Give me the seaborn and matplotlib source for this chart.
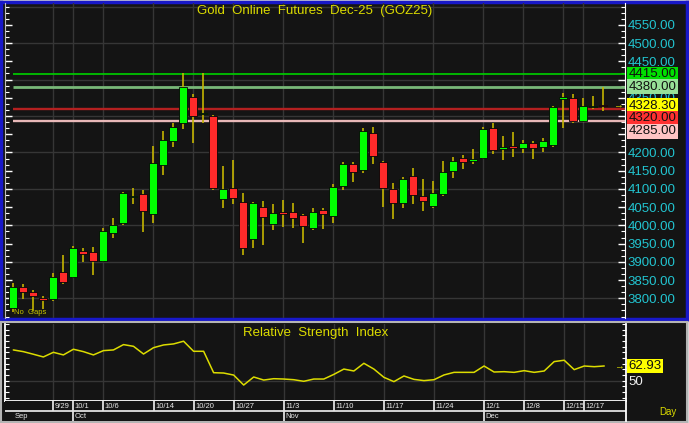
import numpy as np
import pandas as pd
import matplotlib.pyplot as plt
import matplotlib.ticker as mticker
import seaborn as sns

# daily OHLC of GOZ25, one bar per session
opens = [3772.7, 3830.3, 3818.4, 3802.0, 3798.3, 3873.3, 3859.6, 3930.9, 3928.2, 3903.5,
         3978.5, 4005.9, 4077.0, 4086.4, 4031.5, 4166.0, 4231.8, 4280.0, 4353.4, 4305.0,
         4300.4, 4071.7, 4103.8, 4063.5, 3963.0, 4050.7, 4004.0, 4037.9, 4037.9, 4028.8,
         3994.0, 4042.5, 4026.9, 4109.2, 4168.7, 4152.2, 4252.8, 4173.2, 4100.1, 4060.8,
         4135.8, 4080.9, 4054.4, 4085.5, 4149.5, 4186.0, 4177.8, 4186.0, 4268.4, 4210.7,
         4218.0, 4211.7, 4225.4, 4216.2, 4220.8, 4347.0, 4350.7, 4286.6, 4325.0, 4331.5]
highs = [3841.0, 3838.5, 3823.0, 3806.5, 3868.7, 3919.0, 3943.7, 3939.0, 3940.0, 3992.0,
         4021.4, 4092.8, 4101.9, 4097.3, 4218.0, 4259.0, 4280.0, 4419.0, 4360.7, 4419.0,
         4302.0, 4163.0, 4179.7, 4088.2, 4065.3, 4067.2, 4059.0, 4070.0, 4060.8, 4031.5,
         4047.0, 4048.9, 4113.8, 4175.1, 4175.1, 4266.5, 4271.0, 4177.0, 4115.6, 4132.1,
         4156.8, 4127.5, 4122.0, 4177.0, 4188.8, 4193.4, 4209.0, 4271.0, 4282.0, 4245.5,
         4255.6, 4234.5, 4231.8, 4239.1, 4328.7, 4362.5, 4359.8, 4350.7, 4356.0, 4379.0]
lows = [3763.6, 3798.3, 3766.3, 3770.0, 3793.7, 3839.5, 3855.0, 3900.7, 3864.0, 3900.7,
        3966.6, 4001.3, 4059.0, 3983.0, 4007.7, 4138.5, 4216.2, 4263.8, 4227.2, 4282.0,
        4097.3, 4049.0, 4059.0, 3919.0, 3939.0, 3946.4, 3987.6, 3996.8, 3994.0, 3952.9,
        3987.6, 3990.4, 4007.7, 4097.3, 4120.2, 4144.9, 4168.7, 4051.6, 4017.8, 4049.0,
        4058.0, 4040.6, 4049.0, 4080.9, 4129.4, 4154.0, 4167.8, 4182.4, 4196.1, 4179.7,
        4188.8, 4199.8, 4181.5, 4200.7, 4214.4, 4266.5, 4280.2, 4284.8, 4319.6, 4314.0]
closes = [3830.3, 3816.6, 3806.5, 3796.5, 3857.8, 3844.0, 3937.3, 3921.8, 3903.5, 3985.8,
          4001.3, 4088.2, 4080.9, 4038.8, 4170.5, 4234.5, 4271.0, 4379.0, 4301.3, 4306.8,
          4101.9, 4100.1, 4076.3, 3939.1, 4060.8, 4024.2, 4033.3, 4032.4, 4021.4, 3999.5,
          4037.9, 4031.5, 4106.5, 4168.7, 4147.6, 4259.2, 4191.5, 4101.9, 4060.8, 4127.5,
          4083.6, 4068.0, 4088.2, 4147.6, 4177.8, 4175.1, 4183.3, 4263.8, 4207.1, 4214.4,
          4211.7, 4225.4, 4213.5, 4231.8, 4326.0, 4353.4, 4286.6, 4328.7, 4328.7, 4328.3]
rsi = [77.1, 75.6, 73.3, 70.9, 75.0, 72.7, 77.7, 75.6, 72.7, 76.5,
       77.1, 81.8, 80.3, 73.5, 79.1, 81.5, 82.4, 84.8, 75.9, 75.9,
       57.0, 56.7, 54.9, 46.1, 53.2, 50.5, 51.7, 51.4, 50.8, 49.4,
       51.4, 51.4, 55.5, 60.2, 58.5, 65.3, 60.2, 52.9, 49.1, 54.1,
       51.1, 50.0, 50.8, 55.0, 57.3, 57.3, 57.3, 62.9, 57.6, 57.9,
       57.3, 58.8, 57.3, 58.5, 66.8, 68.0, 59.7, 62.9, 62.3, 62.93]

date_labels = ['9/29', '10/1', '10/6', '10/14', '10/20', '10/27', '11/3',
               '11/10', '11/17', '11/24', '12/1', '12/8', '12/15', '12/17']
date_pos = [4, 6, 9, 14, 18, 22, 27, 32, 37, 42, 47, 51, 55, 57]
month_labels = ['Sep', 'Oct', 'Nov', 'Dec']
month_pos = [0, 6, 27, 47]

levels = [4415.0, 4380.0, 4320.0, 4285.0]
level_colors = ['#00c400', '#78b878', '#b42020', '#e8b8b8']
level_box = ['#00e000', '#98e098', '#ff3030', '#ffc4c4']
last_price = 4328.30

sns.set_style('dark')
plt.rcParams['font.family'] = ['Liberation Sans', 'DejaVu Sans']

W, H = 689, 423


def box(x, y, w, h):
    # pixel rectangle (from top left) -> figure fraction
    return [x / W, 1 - (y + h) / H, w / W, h / H]


BG = '#141414'
GRID = '#363636'
YEL = '#dcdc00'
CYAN = '#22c4d0'

df = pd.DataFrame({'open': opens, 'high': highs, 'low': lows, 'close': closes, 'rsi': rsi})
df['i'] = np.arange(len(df))
up = df['close'] >= df['open']
xlim = (-0.83, 61.17)

fig = plt.figure(figsize=(W / 100, H / 100), dpi=100)
fig.patch.set_facecolor('#d4d4d4')

# ---- price panel ----
bg = fig.add_axes(box(1, 2, 686, 317))
bg.set_facecolor(BG)
bg.set_xticks([])
bg.set_yticks([])
for s in bg.spines.values():
    s.set_color('#1818c8')
    s.set_linewidth(2.5)

ax = fig.add_axes(box(5, 3, 620, 315))
ax.set_facecolor('none')
ax.set_xlim(xlim)
ax.set_ylim(3746, 4610)
for x in date_pos:
    ax.axvline(x, color=GRID, lw=1, zorder=0)
for y in range(3800, 4601, 100):
    ax.axhline(y, color=GRID, lw=1, zorder=0)

ax.hlines(levels, 0, xlim[1], colors=level_colors, linewidths=[1.3, 2.0, 1.7, 1.7], zorder=1)

ax.vlines(df['i'], df['low'], df['high'], color='#c4b400', lw=1.2, zorder=2)
body = (df['close'] - df['open']).abs().clip(lower=2.5)
ax.bar(df['i'][up], body[up], bottom=df['open'][up], width=0.8,
       color='#00ff00', edgecolor='#050505', lw=0.6, zorder=3)
ax.bar(df['i'][~up], body[~up], bottom=df['close'][~up], width=0.8,
       color='#ff2a2a', edgecolor='#050505', lw=0.6, zorder=3)

# 4300 / 4400 sit fully under the level boxes, so leave them blank
hidden = {4300.0, 4400.0}
ax.yaxis.set_major_locator(mticker.FixedLocator(np.arange(3800, 4551, 50)))
ax.yaxis.set_minor_locator(mticker.MultipleLocator(50 / 3))
ax.yaxis.set_major_formatter(mticker.FuncFormatter(
    lambda v, p: '' if round(v) in hidden else f'{v:.2f}'))
ax.tick_params(axis='y', which='both', direction='in', colors='white',
               left=True, right=True, labelleft=False, labelright=True)
ax.tick_params(axis='y', which='major', length=5, width=1, labelsize=9.5,
               labelcolor=CYAN, pad=2)
ax.tick_params(axis='y', which='minor', length=3, width=0.8)
ax.tick_params(axis='x', bottom=False, labelbottom=False)
for k in ['top', 'bottom']:
    ax.spines[k].set_visible(False)
ax.spines['right'].set_color('white')
ax.spines['left'].set_color('#bbbbbb')
ax.spines['left'].set_linewidth(0.8)

ax.text(0.5, 0.975, 'Gold  Online  Futures  Dec-25  (GOZ25)', transform=ax.transAxes,
        ha='center', va='center', color=YEL, fontsize=9.5)
ax.text(0.015, 0.016, 'No  Gaps', transform=ax.transAxes, ha='left', va='center',
        color='#c8c400', fontsize=5.5)
ax.text(len(df) + 0.5, last_price, '→', ha='center', va='center', color=YEL, fontsize=7)

# stacked price boxes on the right
tags = [(levels[0], '4415.00', level_box[0], 0),
        (levels[1], '4380.00', level_box[1], 0),
        (last_price, '4328.30', '#ffff00', 0),
        (levels[2], '4320.00', level_box[2], -7),
        (levels[3], '4285.00', level_box[3], -7)]
for val, txt, col, dy in tags:
    ax.annotate(txt, xy=(1, val), xycoords=('axes fraction', 'data'),
                xytext=(2.5, dy), textcoords='offset points', ha='left', va='center',
                fontsize=9.5, color='#101010', zorder=10, annotation_clip=False,
                bbox=dict(boxstyle='square,pad=0.12', fc=col, ec='none'))

# ---- RSI panel ----
bg2 = fig.add_axes(box(1, 322, 686, 100))
bg2.set_facecolor(BG)
bg2.set_xticks([])
bg2.set_yticks([])
for s in bg2.spines.values():
    s.set_color('#b4b4b4')
    s.set_linewidth(1.5)

rax = fig.add_axes(box(5, 324, 621, 77))
rax.set_facecolor('none')
rax.set_xlim(xlim)
rax.set_ylim(32, 100)
for x in date_pos:
    rax.axvline(x, color=GRID, lw=1, zorder=0)
rax.axhline(50, color=GRID, lw=1, zorder=0)
sns.lineplot(data=df, x='i', y='rsi', ax=rax, color=YEL, lw=1.1)
rax.set_xlabel('')
rax.set_ylabel('')
rax.yaxis.set_major_locator(mticker.MultipleLocator(5))
rax.tick_params(axis='y', which='both', direction='in', colors='white', length=3,
                left=True, right=True, labelleft=False, labelright=False)
rax.tick_params(axis='x', bottom=False, labelbottom=False)
rax.spines['top'].set_visible(False)
for k in ['left', 'right', 'bottom']:
    rax.spines[k].set_color('white')
    rax.spines[k].set_linewidth(1.3)

rax.text(0.5, 0.88, 'Relative  Strength  Index', transform=rax.transAxes,
         ha='center', va='center', color=YEL, fontsize=9.5)
rax.text(len(df) + 0.5, rsi[-1], '→', ha='center', va='center', color=YEL, fontsize=7)
rax.annotate('62.93', xy=(1, rsi[-1]), xycoords=('axes fraction', 'data'),
             xytext=(2, 0), textcoords='offset points', ha='left', va='center',
             fontsize=9.5, color='#101010', annotation_clip=False,
             bbox=dict(boxstyle='square,pad=0.1', fc='#ffff00', ec='none'))
rax.annotate('50', xy=(1, 50), xycoords=('axes fraction', 'data'),
             xytext=(2, -1), textcoords='offset points', ha='left', va='center',
             fontsize=9.5, color='#f0f0f0', annotation_clip=False)

# ---- date rows ----
dax = fig.add_axes(box(5, 401, 621, 20))
dax.set_facecolor(BG)
dax.set_xlim(xlim)
dax.set_ylim(0, 2)
dax.set_xticks([])
dax.set_yticks([])
for k in ['top', 'bottom', 'left']:
    dax.spines[k].set_visible(False)
dax.spines['right'].set_color('white')
dax.spines['right'].set_linewidth(1.3)
dax.axhline(1, color='#e0e0e0', lw=1.3)
dax.vlines(date_pos, 1, 2, color='#e0e0e0', lw=1.3)
dax.vlines(month_pos[1:], 0, 1, color='#e0e0e0', lw=1.3)
for x, lbl in zip(date_pos, date_labels):
    dax.text(x + 0.15, 1.45, lbl, ha='left', va='center', color='#e8e8e8', fontsize=5.5)
for x, lbl in zip(month_pos, month_labels):
    dax.text(x + 0.15, 0.45, lbl, ha='left', va='center', color='#e8e8e8', fontsize=5.5)

fig.text(668 / W, 1 - 412 / H, 'Day', ha='center', va='center', color=YEL, fontsize=7)

fig.savefig('out.png', dpi=100, facecolor=fig.get_facecolor())
